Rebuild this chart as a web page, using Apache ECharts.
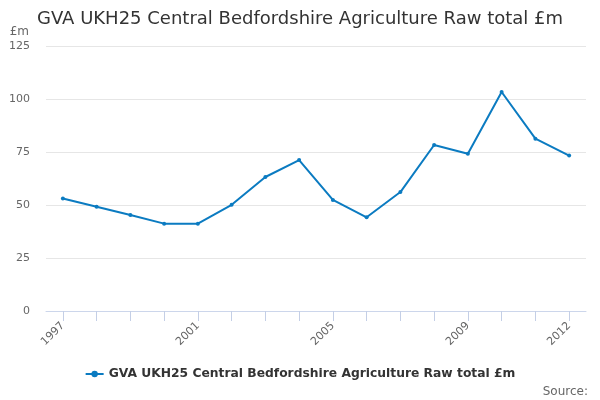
<!DOCTYPE html>
<html>
<head>
<meta charset="utf-8">
<script src="https://cdn.jsdelivr.net/npm/echarts@6/dist/echarts.min.js"></script>
<style>
  html, body { margin: 0; padding: 0; background: #fff; }
  #main { width: 600px; height: 400px; }
</style>
</head>
<body>
<div id="main"></div>
<script>
// 数据
const years = ['1997','1998','1999','2000','2001','2002','2003','2004','2005','2006','2007','2008','2009','2010','2011','2012'];
const gvaValues = [53.1, 49.2, 45.3, 41.2, 41.2, 50.1, 63.2, 71.2, 52.4, 44.2, 56.1, 78.3, 74.2, 103.3, 81.3, 73.3];
const seriesName = 'GVA UKH25 Central Bedfordshire Agriculture Raw total £m';
const lineColor = '#0b7bc1';

var chartDom = document.getElementById('main');
var myChart = echarts.init(chartDom);
var option = {
    animation: false,
    title: {
        text: seriesName,
        left: 32,
        top: 5,
        textStyle: {
            fontFamily: 'DejaVu Sans',
            fontSize: 18,
            fontWeight: 'normal',
            color: '#333'
        }
    },
    graphic: [{
        type: 'text',
        right: 12,
        top: 386,
        style: {
            text: 'Source:',
            fontFamily: 'DejaVu Sans',
            fontSize: 12,
            fill: '#666'
        }
    }],
    legend: {
        bottom: 15,
        left: 'center',
        itemWidth: 18,
        itemHeight: 8,
        textStyle: {
            fontFamily: 'DejaVu Sans',
            fontSize: 12.3,
            fontWeight: 'bold',
            color: '#333'
        },
        data: [seriesName]
    },
    grid: {
        left: 46,
        right: 14,
        top: 46,
        bottom: 89
    },
    xAxis: {
        type: 'category',
        data: years,
        boundaryGap: true,
        axisLine: { lineStyle: { color: '#ccd6eb' } },
        axisTick: {
            show: true,
            alignWithLabel: true,
            interval: 0,
            length: 10,
            lineStyle: { color: '#c4cfe6', width: 1 }
        },
        axisLabel: {
            rotate: 45,
            interval: function (index) {
                return index % 4 === 0 || index === years.length - 1;
            },
            fontFamily: 'DejaVu Sans',
            fontSize: 11,
            color: '#666',
            margin: 13
        }
    },
    yAxis: {
        type: 'value',
        min: 0,
        max: 125,
        interval: 25,
        name: '£m',
        nameLocation: 'end',
        nameGap: 8,
        nameTextStyle: {
            fontFamily: 'DejaVu Sans',
            fontSize: 12,
            color: '#666',
            align: 'right',
            padding: [0, 17, 0, 0]
        },
        axisLine: { show: false },
        axisTick: { show: false },
        axisLabel: {
            fontFamily: 'DejaVu Sans',
            fontSize: 11,
            color: '#666',
            margin: 16
        },
        splitLine: { lineStyle: { color: '#e6e6e6' } }
    },
    series: [{
        name: seriesName,
        type: 'line',
        data: gvaValues,
        symbol: 'circle',
        symbolSize: 4,
        showAllSymbol: true,
        itemStyle: { color: lineColor },
        lineStyle: { color: lineColor, width: 2 }
    }]
};
myChart.setOption(option);
</script>
</body>
</html>
